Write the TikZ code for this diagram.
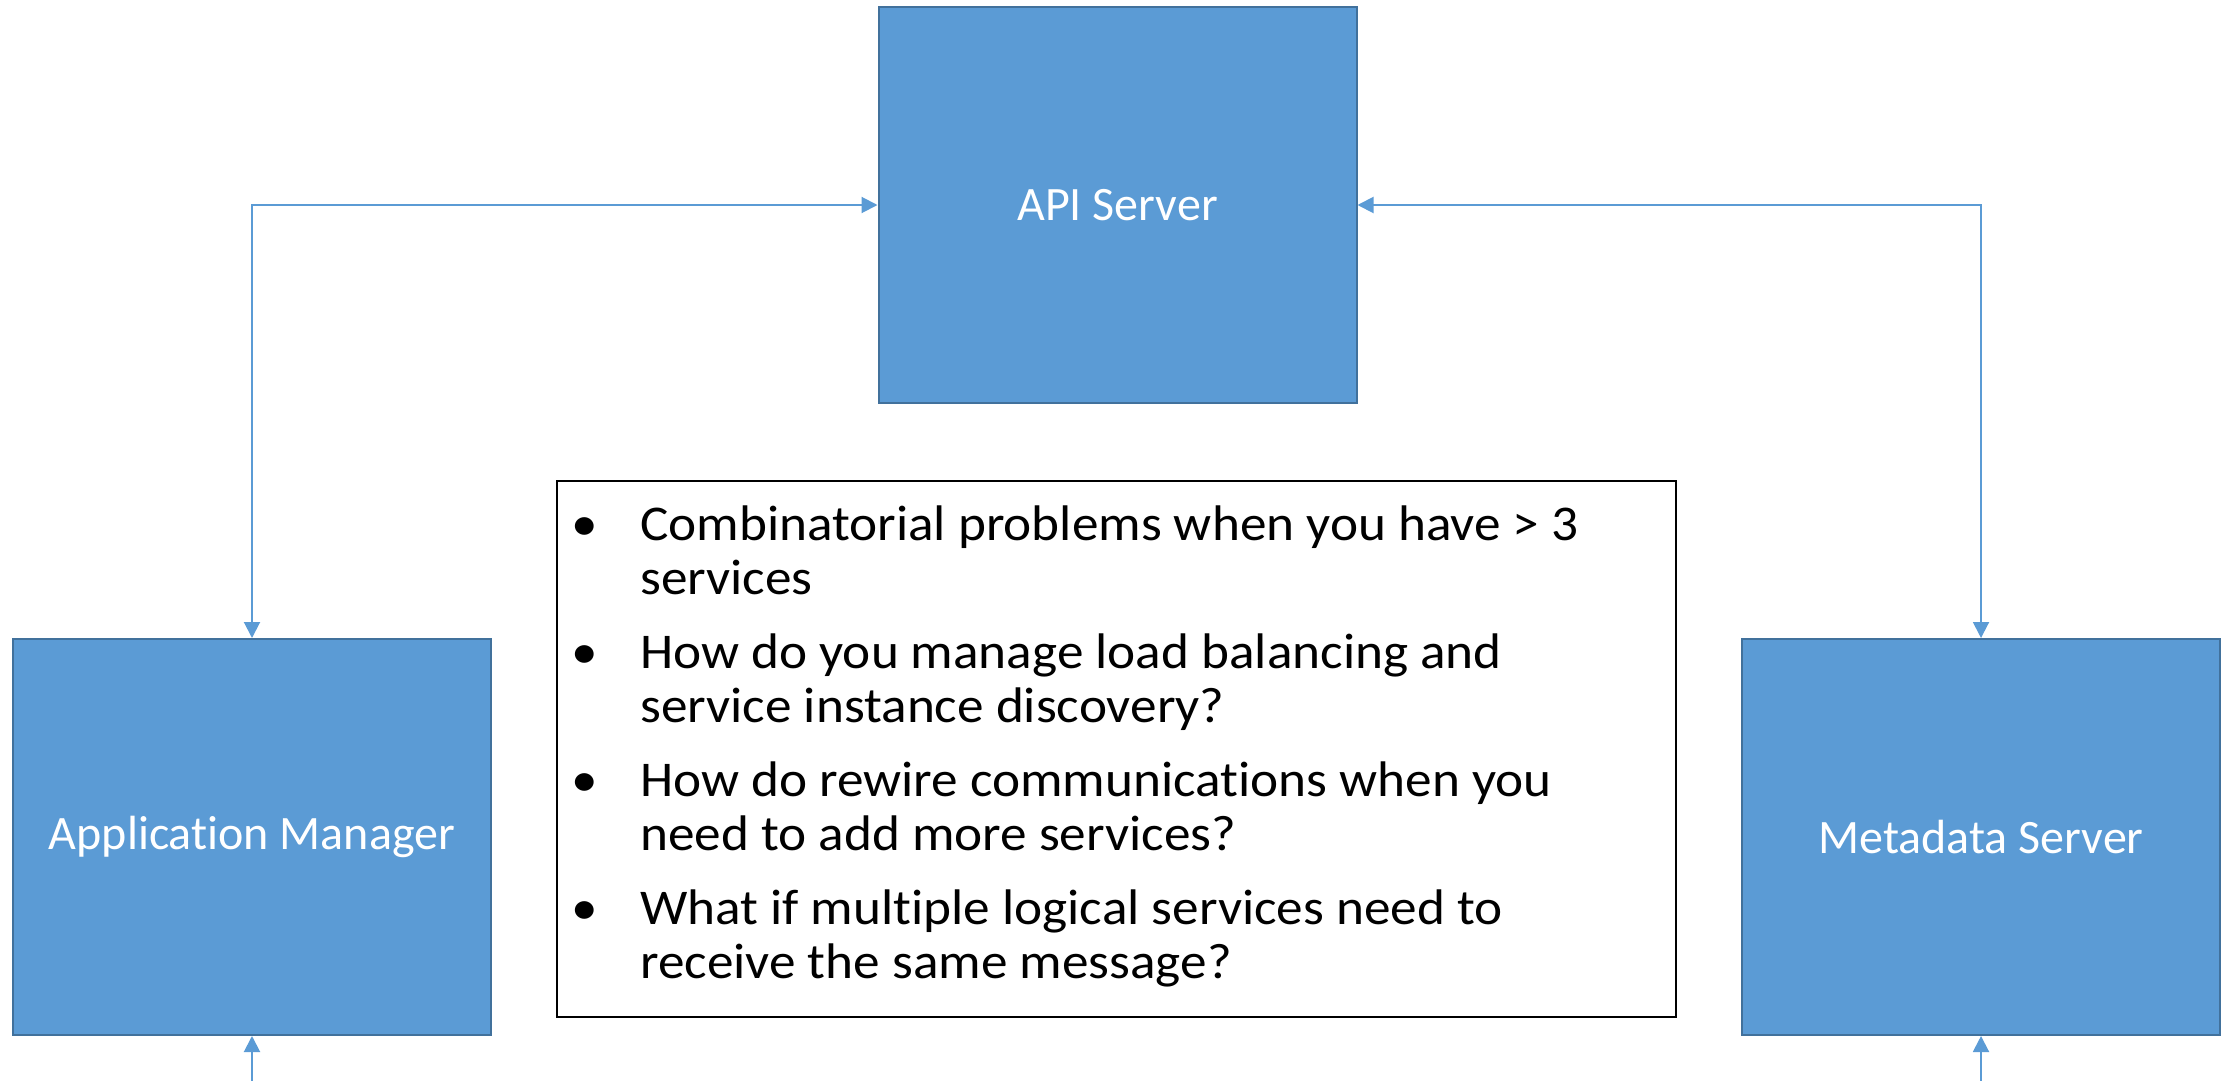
\documentclass[tikz,border=0pt]{standalone}
\usepackage{fontspec}
\setmainfont{Carlito}[Ligatures=NoCommon]
\newfontfamily\listfont{Carlito}[Ligatures=NoCommon, FakeStretch=1.065]
\usetikzlibrary{arrows.meta}
\definecolor{boxfill}{HTML}{5B9BD5}
\definecolor{boxline}{HTML}{41719C}
\begin{document}
\begin{tikzpicture}[x=1pt,y=-1pt,
  svc/.style={draw=boxline, line width=2pt, fill=boxfill, text=white,
    minimum width=478pt, minimum height=396pt, inner sep=0pt,
    font=\fontsize{48}{58}\selectfont},
  tipA/.tip={Triangle[length=16pt,width=16pt]},
  link/.style={draw=boxfill, line width=2pt, tipA-tipA},
  feed/.style={draw=boxfill, line width=2pt, -tipA},
  notebox/.style={draw=black, line width=2.5pt, minimum width=1119pt,
    minimum height=536pt, inner sep=0pt}]
\useasboundingbox (0,0) rectangle (2233,1081);
\node[svc] (api) at (1117.5,205) {API Server};
\node[svc] (app) at (252,837) {Application Manager};
\node[svc] (meta) at (1981,837) {Metadata Server};
\node[notebox] (notes) at (1116.5,749) {};
\node[anchor=base west, inner sep=0pt, font=\listfont\fontsize{50}{54}\selectfont] (list) at (571,540)
{\begin{tabular}[t]{@{}p{69pt}@{}l@{}}
\textbullet & Combinatorial problems when you have > 3\\
 & services\\[20pt]
\textbullet & How do you manage load balancing and\\
 & service instance discovery?\\[20pt]
\textbullet & How do rewire communications when you\\
 & need to add more services?\\[20pt]
\textbullet & What if multiple logical services need to\\
 & receive the same message?
\end{tabular}};
\draw[link] (app.north) |- (api.west);
\draw[link] (meta.north) |- (api.east);
\coordinate (appin) at (252,1081);
\coordinate (metain) at (1981,1081);
\draw[feed] (appin) -- (app.south);
\draw[feed] (metain) -- (meta.south);
\end{tikzpicture}
\end{document}
